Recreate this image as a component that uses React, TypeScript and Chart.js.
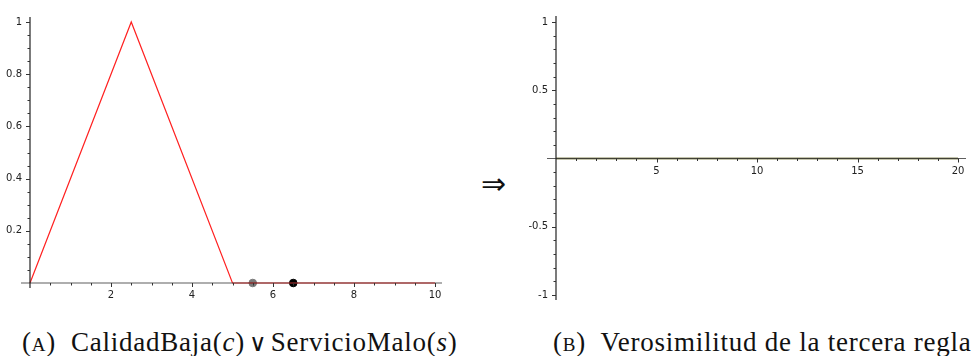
import React, { useEffect, useRef } from "react";
import { Chart, registerables } from "chart.js";
Chart.register(...registerables);

// ---- data: left panel (A) ----
const redX = [0, 2.5, 5, 10];
const redY = [0, 1, 0, 0];
const grayPointX = [5.5];
const grayPointY = [0];
const blackPointX = [6.5];
const blackPointY = [0];
const leftXTicks = [2, 4, 6, 8, 10];
const leftXTickLabels = ["2", "4", "6", "8", "10"];
const leftYTicks = [0.2, 0.4, 0.6, 0.8, 1];
const leftYTickLabels = ["0.2", "0.4", "0.6", "0.8", "1"];

// ---- data: right panel (B) ----
const oliveX = [0, 20];
const oliveY = [0, 0];
const rightXTicks = [5, 10, 15, 20];
const rightXTickLabels = ["5", "10", "15", "20"];
const rightYTicks = [-1, -0.5, 0.5, 1];
const rightYTickLabels = ["-1", "-0.5", "0.5", "1"];

const captionA = "CalidadBaja";
const captionB = "Verosimilitud de la tercera regla";

function range(a: number, b: number, step: number) {
  const out: number[] = [];
  const n = Math.round((b - a) / step);
  for (let i = 0; i <= n; i++) out.push(+(a + i * step).toFixed(6));
  return out;
}

type AxisSpec = {
  xMajor: number[];
  xLabels: string[];
  xMinorStep: number;
  yMajor: number[];
  yLabels: string[];
  yMinorStep: number;
  ext: { left: number; right: number; top: number; bottom: number };
};

function axesPlugin(spec: AxisSpec) {
  return {
    id: "sageAxes",
    afterDatasetsDraw(chart: any) {
      const ctx = chart.ctx as CanvasRenderingContext2D;
      const xs = chart.scales.x;
      const ys = chart.scales.y;
      const x0 = xs.getPixelForValue(0);
      const y0 = ys.getPixelForValue(0);
      const area = chart.chartArea;
      ctx.save();
      // axis lines
      ctx.strokeStyle = "rgba(40,40,40,0.75)";
      ctx.lineWidth = 1.2;
      ctx.beginPath();
      ctx.moveTo(area.left - spec.ext.left, y0);
      ctx.lineTo(area.right + spec.ext.right, y0);
      ctx.stroke();
      ctx.strokeStyle = "#222";
      ctx.beginPath();
      ctx.moveTo(x0, area.top - spec.ext.top);
      ctx.lineTo(x0, area.bottom + spec.ext.bottom);
      ctx.stroke();
      // ticks
      ctx.strokeStyle = "#333";
      ctx.lineWidth = 1;
      const xmin = xs.min, xmax = xs.max, ymin = ys.min, ymax = ys.max;
      for (const v of range(xmin, xmax, spec.xMinorStep)) {
        if (Math.abs(v) < 1e-9) continue;
        const px = Math.round(xs.getPixelForValue(v)) + 0.5;
        const major = spec.xMajor.some((m) => Math.abs(m - v) < 1e-9);
        ctx.beginPath();
        ctx.moveTo(px, y0);
        ctx.lineTo(px, y0 + (major ? 4 : 2.5));
        ctx.stroke();
      }
      for (const v of range(ymin, ymax, spec.yMinorStep)) {
        if (Math.abs(v) < 1e-9) continue;
        const py = Math.round(ys.getPixelForValue(v)) + 0.5;
        const major = spec.yMajor.some((m) => Math.abs(m - v) < 1e-9);
        ctx.beginPath();
        ctx.moveTo(x0, py);
        ctx.lineTo(x0 - (major ? 4 : 2.5), py);
        ctx.stroke();
      }
      // labels
      ctx.fillStyle = "#222";
      ctx.font = "10px 'DejaVu Sans'";
      ctx.textAlign = "center";
      ctx.textBaseline = "middle";
      spec.xMajor.forEach((v, i) => {
        ctx.fillText(spec.xLabels[i], xs.getPixelForValue(v), y0 + 12.5);
      });
      ctx.textAlign = "right";
      spec.yMajor.forEach((v, i) => {
        ctx.fillText(spec.yLabels[i], x0 - 8, ys.getPixelForValue(v));
      });
      ctx.restore();
    },
  };
}

function toPts(xs: number[], ys: number[]) {
  return xs.map((x, i) => ({ x, y: ys[i] }));
}

function LeftChart() {
  const ref = useRef<HTMLCanvasElement | null>(null);
  useEffect(() => {
    const chart = new Chart(ref.current!, {
      type: "scatter",
      data: {
        datasets: [
          {
            data: toPts(redX, redY),
            showLine: true,
            borderColor: "#ff2020",
            borderWidth: 1.2,
            pointRadius: 0,
            clip: false,
          } as any,
          {
            data: toPts(grayPointX, grayPointY),
            backgroundColor: "#7a7a7a",
            borderColor: "#7a7a7a",
            pointRadius: 3.8,
            clip: false,
          } as any,
          {
            data: toPts(blackPointX, blackPointY),
            backgroundColor: "#000",
            borderColor: "#000",
            pointRadius: 3.8,
            clip: false,
          } as any,
        ],
      },
      options: {
        animation: false,
        responsive: false,
        events: [],
        layout: { padding: { left: 30, right: 25, top: 22, bottom: 27 } },
        plugins: { legend: { display: false }, tooltip: { enabled: false } },
        scales: {
          x: { type: "linear", min: 0, max: 10, display: false },
          y: { type: "linear", min: 0, max: 1, display: false },
        },
      },
      plugins: [
        axesPlugin({
          xMajor: leftXTicks,
          xLabels: leftXTickLabels,
          xMinorStep: 0.5,
          yMajor: leftYTicks,
          yLabels: leftYTickLabels,
          yMinorStep: 0.05,
          ext: { left: 9, right: 7, top: 5, bottom: 5 },
        }),
      ],
    });
    return () => chart.destroy();
  }, []);
  return (
    <canvas
      ref={ref}
      width={460}
      height={310}
      style={{ position: "absolute", left: 0, top: 0, width: 460, height: 310 }}
    />
  );
}

function RightChart() {
  const ref = useRef<HTMLCanvasElement | null>(null);
  useEffect(() => {
    const chart = new Chart(ref.current!, {
      type: "scatter",
      data: {
        datasets: [
          {
            data: toPts(oliveX, oliveY),
            showLine: true,
            borderColor: "#8a8a5c",
            borderWidth: 2,
            pointRadius: 0,
            clip: false,
          } as any,
        ],
      },
      options: {
        animation: false,
        responsive: false,
        events: [],
        layout: { padding: { left: 46, right: 16, top: 22, bottom: 15 } },
        plugins: { legend: { display: false }, tooltip: { enabled: false } },
        scales: {
          x: { type: "linear", min: 0, max: 20, display: false },
          y: { type: "linear", min: -1, max: 1, display: false },
        },
      },
      plugins: [
        axesPlugin({
          xMajor: rightXTicks,
          xLabels: rightXTickLabels,
          xMinorStep: 1,
          yMajor: rightYTicks,
          yLabels: rightYTickLabels,
          yMinorStep: 0.1,
          ext: { left: 9, right: 8, top: 6, bottom: 5 },
        }),
      ],
    });
    return () => chart.destroy();
  }, []);
  return (
    <canvas
      ref={ref}
      width={464}
      height={310}
      style={{ position: "absolute", left: 510, top: 0, width: 464, height: 310 }}
    />
  );
}

const symStyle: React.CSSProperties = {
  fontFamily: "'DejaVu Sans ExtraLight', 'DejaVu Sans', sans-serif",
  fontWeight: 200,
};

export default function App() {
  const capStyle: React.CSSProperties = {
    position: "absolute",
    top: 324,
    fontFamily: "'Liberation Serif', serif",
    fontSize: 27,
    letterSpacing: "0.75px",
    lineHeight: "36px",
    whiteSpace: "pre",
    color: "#111",
  };
  return (
    <div
      style={{
        position: "absolute",
        left: 0,
        top: 0,
        width: 974,
        height: 356,
        background: "#fff",
        overflow: "hidden",
      }}
    >
      <LeftChart />
      <RightChart />
      <div
        style={{
          ...symStyle,
          position: "absolute",
          left: 481,
          top: 166,
          fontSize: 30,
          lineHeight: "36px",
          color: "#111",
        }}
      >
        ⇒
      </div>
      <div style={{ ...capStyle, left: 22 }}>
        (<span style={{ fontVariant: "small-caps" }}>a</span>){"  "}{captionA}(<i>c</i>)
        <span style={{ ...symStyle, fontSize: 24, margin: "0 3px 0 4px" }}>∨</span>ServicioMalo(<i>s</i>)
      </div>
      <div style={{ ...capStyle, left: 553 }}>
        (<span style={{ fontVariant: "small-caps" }}>b</span>){"  "}{captionB}
      </div>
    </div>
  );
}
